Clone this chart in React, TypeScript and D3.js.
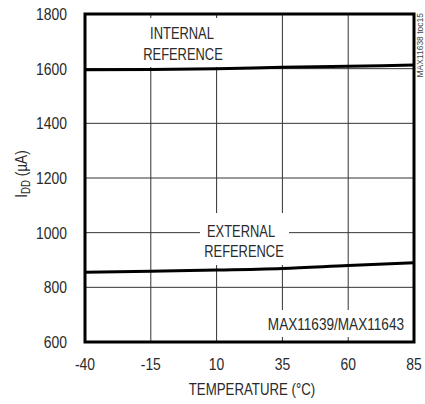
import React from "react";
import * as d3 from "d3";

// temperature (°C) and supply current (µA)
const temps = [-40, -15, 10, 35, 60, 85];
const internalRef = [1596, 1597, 1600, 1605, 1609, 1613];
const externalRef = [855, 859, 863, 869, 880, 890];
const xTicks = [-40, -15, 10, 35, 60, 85];
const yTicks = [600, 800, 1000, 1200, 1400, 1600, 1800];

const W = 425;
const H = 404;
const m = { left: 85, right: 414, top: 14, bottom: 342 };
const FONT = "'Liberation Sans', Arial, sans-serif";

const x = d3.scaleLinear().domain([-40, 85]).range([m.left, m.right]);
const y = d3.scaleLinear().domain([600, 1800]).range([m.bottom, m.top]);

const line = d3
  .line<number>()
  .x((_, i) => x(temps[i]))
  .y((d) => y(d))
  .curve(d3.curveMonotoneX);

// narrow text: the reference uses a condensed face
const T = ({ x: tx, y: ty, sx = 0.76, size = 17, anchor = "middle", children, fill = "#2a2a2a" }: any) => (
  <text
    transform={`translate(${tx},${ty}) scale(${sx},1)`}
    textAnchor={anchor}
    fontSize={size}
    fontFamily={FONT}
    fill={fill}
  >
    {children}
  </text>
);

export default function App() {
  return (
    <svg width={W} height={H} style={{ position: "absolute", left: 0, top: 0, background: "#fff" }}>
      {/* grid */}
      {xTicks.slice(1, -1).map((t) => (
        <line key={"vx" + t} x1={x(t)} x2={x(t)} y1={m.top} y2={m.bottom} stroke="#333" strokeWidth={1} />
      ))}
      {yTicks.slice(1, -1).map((t) => (
        <line key={"hy" + t} x1={m.left} x2={m.right} y1={y(t)} y2={y(t)} stroke="#333" strokeWidth={1} />
      ))}

      {/* label boxes hiding the grid */}
      <rect x={140} y={18} width={84} height={49} fill="#fff" />
      <rect x={200} y={213} width={89} height={52} fill="#fff" />
      <rect x={250} y={310} width={158} height={27} fill="#fff" />

      {/* curves */}
      <path d={line(internalRef) ?? ""} fill="none" stroke="#000" strokeWidth={3} />
      <path d={line(externalRef) ?? ""} fill="none" stroke="#000" strokeWidth={3} />

      {/* frame */}
      <rect
        x={m.left}
        y={m.top}
        width={m.right - m.left}
        height={m.bottom - m.top}
        fill="none"
        stroke="#000"
        strokeWidth={3}
      />

      {/* annotations */}
      <T x={182} y={38.5}>INTERNAL</T>
      <T x={183} y={60}>REFERENCE</T>
      <T x={241} y={237}>EXTERNAL</T>
      <T x={244} y={257}>REFERENCE</T>
      <T x={404} y={330} anchor="end" sx={0.8}>MAX11639/MAX11643</T>

      {/* ticks */}
      {xTicks.map((t) => (
        <T key={"xt" + t} x={x(t)} y={370} sx={0.82}>
          {t}
        </T>
      ))}
      {yTicks.map((t) => (
        <T key={"yt" + t} x={67} y={y(t) + 6} anchor="end" sx={0.82}>
          {t}
        </T>
      ))}

      {/* axis titles */}
      <T x={252} y={395} sx={0.78}>TEMPERATURE (°C)</T>
      <text
        transform="translate(27,174) rotate(-90) scale(0.8,1)"
        textAnchor="middle"
        fontSize={17}
        fontFamily={FONT}
        fill="#2a2a2a"
      >
        I<tspan fontSize={12} dy={3}>DD</tspan>
        <tspan dy={-3}> (µA)</tspan>
      </text>

      <text
        transform="translate(423,13) rotate(-90)"
        textAnchor="end"
        fontSize={8.5}
        fontFamily={FONT}
        fill="#444"
      >
        MAX11638 toc15
      </text>
    </svg>
  );
}
